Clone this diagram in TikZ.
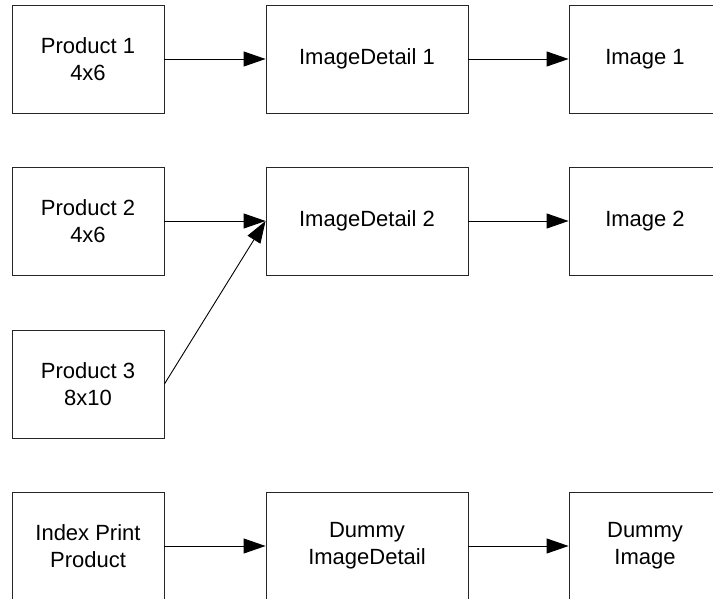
\documentclass[tikz,border=0pt]{standalone}
\usepackage{fontspec}
\setmainfont{Liberation Sans}
\usetikzlibrary{arrows.meta}

\tikzset{
	box/.style={draw=black!85, line width=0.9pt, minimum width=152pt, minimum height=108pt, align=center, inner sep=0pt, font=\fontsize{22}{27}\selectfont},
	widebox/.style={box, minimum width=202pt},
	link/.style={line width=0.9pt, -{Triangle[length=22pt, width=15pt]}}
}

\begin{document}
\begin{tikzpicture}[x=1pt, y=-1pt]
	\clip (0,0) rectangle (713,599);
	\fill[white] (0,0) rectangle (713,599);
	% first row
	\node[box] (prod1) at (88,59) {Product 1\\4x6};
	\node[widebox] (detail1) at (367,59) {ImageDetail 1};
	\node[box] (img1) at (645,59) {Image 1};
	\draw[link] (prod1.east) -- (detail1.west);
	\draw[link] (detail1.east) -- (img1.west);
	% second row
	\node[box] (prod2) at (88,221) {Product 2\\4x6};
	\node[widebox] (detail2) at (367,221) {ImageDetail 2};
	\node[box] (img2) at (645,221) {Image 2};
	\node[box] (prod3) at (88,384) {Product 3\\8x10};
	\draw[link] (prod2.east) -- (detail2.west);
	\draw[link] (prod3.east) -- (detail2.west);
	\draw[link] (detail2.east) -- (img2.west);
	% dummy row
	\node[box] (prodidx) at (88,546) {Index Print\\Product};
	\node[widebox] (dummydetail) at (367,546) {Dummy\\ImageDetail};
	\node[box] (dummyimg) at (645,546) {Dummy\\Image};
	\draw[link] (prodidx.east) -- (dummydetail.west);
	\draw[link] (dummydetail.east) -- (dummyimg.west);
\end{tikzpicture}
\end{document}
